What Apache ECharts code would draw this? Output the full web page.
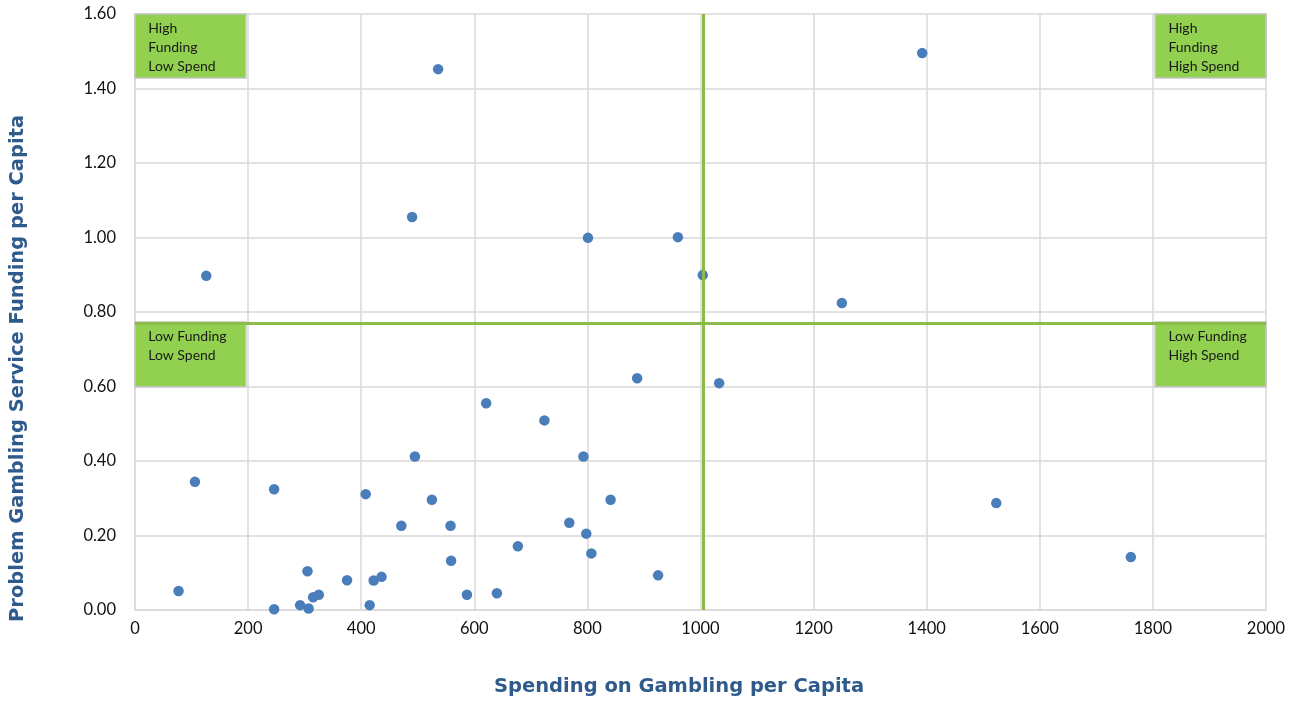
<!DOCTYPE html>
<html><head><meta charset="utf-8">
<script src="https://cdn.jsdelivr.net/npm/echarts@6/dist/echarts.min.js"></script>
<style>html,body{margin:0;padding:0;background:#fff}#c{width:1301px;height:706px}</style>
</head><body><div id="c"></div>
<script>
const spending = [106,246,408,495,525,471,558,677,559,305,77,375,422,436,315,325,292,307,246,415,587,640,
  888,1033,621,724,793,841,768,798,807,925,126,536,490,801,960,1004,1250,1392,1523,1761];
const funding = [0.344,0.324,0.311,0.412,0.296,0.226,0.226,0.171,0.132,0.104,0.051,0.080,0.079,0.089,0.034,0.041,0.013,0.004,0.002,0.013,0.041,0.045,
  0.622,0.609,0.555,0.509,0.412,0.296,0.234,0.205,0.152,0.093,0.897,1.452,1.055,0.999,1.001,0.899,0.824,1.495,0.287,0.142];
const splitX = 1005;
const splitY = 0.773;
const quadrantLabels = [
  {text:'High\nFunding\nLow Spend', x:[0,196], y:[1.428,1.6]},
  {text:'High\nFunding\nHigh Spend', x:[1804,2000], y:[1.428,1.6]},
  {text:'Low Funding\nLow Spend', x:[0,196], y:[0.599,splitY]},
  {text:'Low Funding\nHigh Spend', x:[1804,2000], y:[0.599,splitY]}
];
const xTitle = 'Spending on Gambling per Capita';
const yTitle = 'Problem Gambling Service Funding per Capita';

const points = spending.map((v,i)=>[v,funding[i]]);
const chart = echarts.init(document.getElementById('c'));
const font = 'Lato, "Open Sans", sans-serif';
const tfont = '"DejaVu Sans", sans-serif';
chart.setOption({
  animation:false,
  grid:{left:135,right:35,top:14,bottom:96},
  xAxis:{type:'value',min:0,max:2000,interval:200,
    axisLine:{show:true,lineStyle:{color:'#d9d9d9',width:1.5}},
    axisTick:{show:false},
    splitLine:{lineStyle:{color:'#d9d9d9',width:1.5}},
    axisLabel:{color:'#111',fontSize:16.5,fontFamily:font,margin:10,formatter:v=>String(v)}},
  yAxis:{type:'value',min:0,max:1.6,interval:0.2,
    axisLine:{show:true,lineStyle:{color:'#d9d9d9',width:1.5}},
    axisTick:{show:false},
    splitLine:{lineStyle:{color:'#d9d9d9',width:1.5}},
    axisLabel:{color:'#111',fontSize:16.5,fontFamily:font,margin:19,formatter:v=>v.toFixed(2)}},
  graphic:[
    {type:'text',left:494,top:677,style:{text:xTitle,fill:'#2f5a8c',font:'bold 19.5px '+tfont}},
    {type:'text',rotation:Math.PI/2,x:8,y:622,style:{text:yTitle,fill:'#2f5a8c',font:'bold 19.5px '+tfont,textAlign:'left',textVerticalAlign:'top'}}
  ],
  series:[{
    type:'scatter',data:points,symbolSize:10.5,
    itemStyle:{color:'#4a7ebb',opacity:1},
    markArea:{silent:true,
      itemStyle:{color:'#92d050',borderColor:'#c4c4c4',borderWidth:1.5},
      label:{show:true,position:'insideTopLeft',distance:0,color:'#1a1a1a',fontSize:14,fontFamily:font,lineHeight:19,padding:[6,0,0,14]},
      data:quadrantLabels.map(q=>[{name:q.text,coord:[q.x[0],q.y[1]]},{coord:[q.x[1],q.y[0]]}])
    },
    markLine:{silent:true,symbol:'none',
      lineStyle:{color:'#8dbb4a',width:3,type:'solid'},
      label:{show:false},
      data:[{xAxis:splitX},{yAxis:splitY}]}
  }]
});
</script></body></html>
